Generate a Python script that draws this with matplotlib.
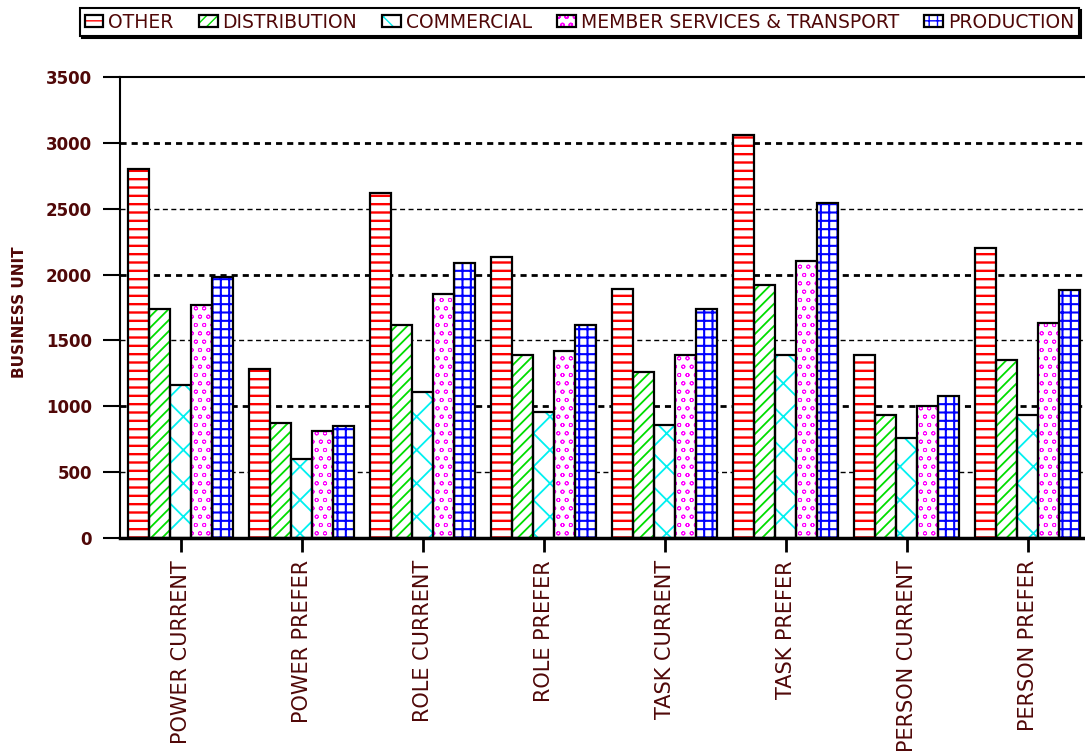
import matplotlib
matplotlib.use("Agg")
import matplotlib.pyplot as plt
import numpy as np
from matplotlib.legend_handler import HandlerTuple

categories = ["POWER CURRENT", "POWER PREFER", "ROLE CURRENT", "ROLE PREFER",
              "TASK CURRENT", "TASK PREFER", "PERSON CURRENT", "PERSON PREFER"]
units = ["OTHER", "DISTRIBUTION", "COMMERCIAL", "MEMBER SERVICES & TRANSPORT", "PRODUCTION"]

other = [2800, 1280, 2620, 2130, 1890, 3060, 1390, 2200]
distribution = [1740, 870, 1620, 1390, 1260, 1920, 930, 1350]
commercial = [1160, 600, 1110, 960, 860, 1390, 760, 930]
member_services = [1770, 810, 1850, 1420, 1390, 2100, 1000, 1630]
production = [1980, 850, 2090, 1620, 1740, 2540, 1080, 1880]

series = [other, distribution, commercial, member_services, production]
hatch_colors = ["#ff0000", "#00dd00", "#00f0f0", "#ff00ff", "#0000ff"]
hatches = ["--", "///", "x", "oo", "++"]
hatch_widths = [1.7, 1.3, 1.3, 0.6, 1.5]
text_color = "#500808"

plt.rcParams["font.family"] = "DejaVu Sans"

fig = plt.figure(figsize=(10.85, 7.52), dpi=100)
ax = fig.add_axes([0.1106, 0.2846, 0.8922, 0.613])

x = np.arange(len(categories))
width = 0.174
handles = []
for i, (vals, col, h, hw) in enumerate(zip(series, hatch_colors, hatches, hatch_widths)):
    pos = x + (i - 2) * width
    with plt.rc_context({"hatch.linewidth": hw}):
        fill = ax.bar(pos, vals, width, color="white", edgecolor=col, hatch=h,
                      linewidth=0, zorder=2)
    edge = ax.bar(pos, vals, width, fill=False, edgecolor="black",
                  linewidth=1.6, zorder=3)
    handles.append((fill[0], edge[0]))

ax.set_xlim(-0.5, 7.5)
ax.set_ylim(0, 3500)
ax.set_yticks(np.arange(0, 3501, 500))

# dashed grid, heavier on the thousands
for v in ax.get_yticks()[1:-1]:
    if v % 1000 == 0:
        ax.axhline(v, color="black", lw=2, dashes=(2.2, 1.8), zorder=1)
    else:
        ax.axhline(v, color="black", lw=1, dashes=(3.6, 2.5), zorder=1)

ax.tick_params(axis="y", length=12, width=1.5, pad=8, labelsize=12,
               labelcolor=text_color)
for lab in ax.get_yticklabels():
    lab.set_fontweight("bold")

ax.set_xticks(x)
ax.set_xticklabels(categories, rotation=90, fontsize=15, color=text_color)
ax.tick_params(axis="x", length=10, width=2, pad=6)

ax.set_ylabel("BUSINESS UNIT", fontsize=11, fontweight="bold", color=text_color)
ax.yaxis.set_label_coords(-0.096, 0.49)

ax.spines["right"].set_visible(False)
ax.spines["left"].set_linewidth(1.5)
ax.spines["top"].set_linewidth(1.5)
ax.spines["bottom"].set_linewidth(2.5)

leg = fig.legend(handles, units, handler_map={tuple: HandlerTuple(ndivide=1)},
                 loc="upper left", bbox_to_anchor=(80 / 1085, 1 - 8 / 752),
                 ncol=5, fancybox=False,
                 shadow={"ox": 1.5, "oy": -1.5, "color": "black", "alpha": 1},
                 fontsize=13.5, handlelength=1.0, handleheight=0.65,
                 handletextpad=0.25, columnspacing=1.35, borderpad=0.25,
                 borderaxespad=0)
leg.get_frame().set_edgecolor("black")
leg.get_frame().set_linewidth(1.5)
for t in leg.get_texts():
    t.set_color(text_color)

fig.savefig("out.png", dpi=100)
